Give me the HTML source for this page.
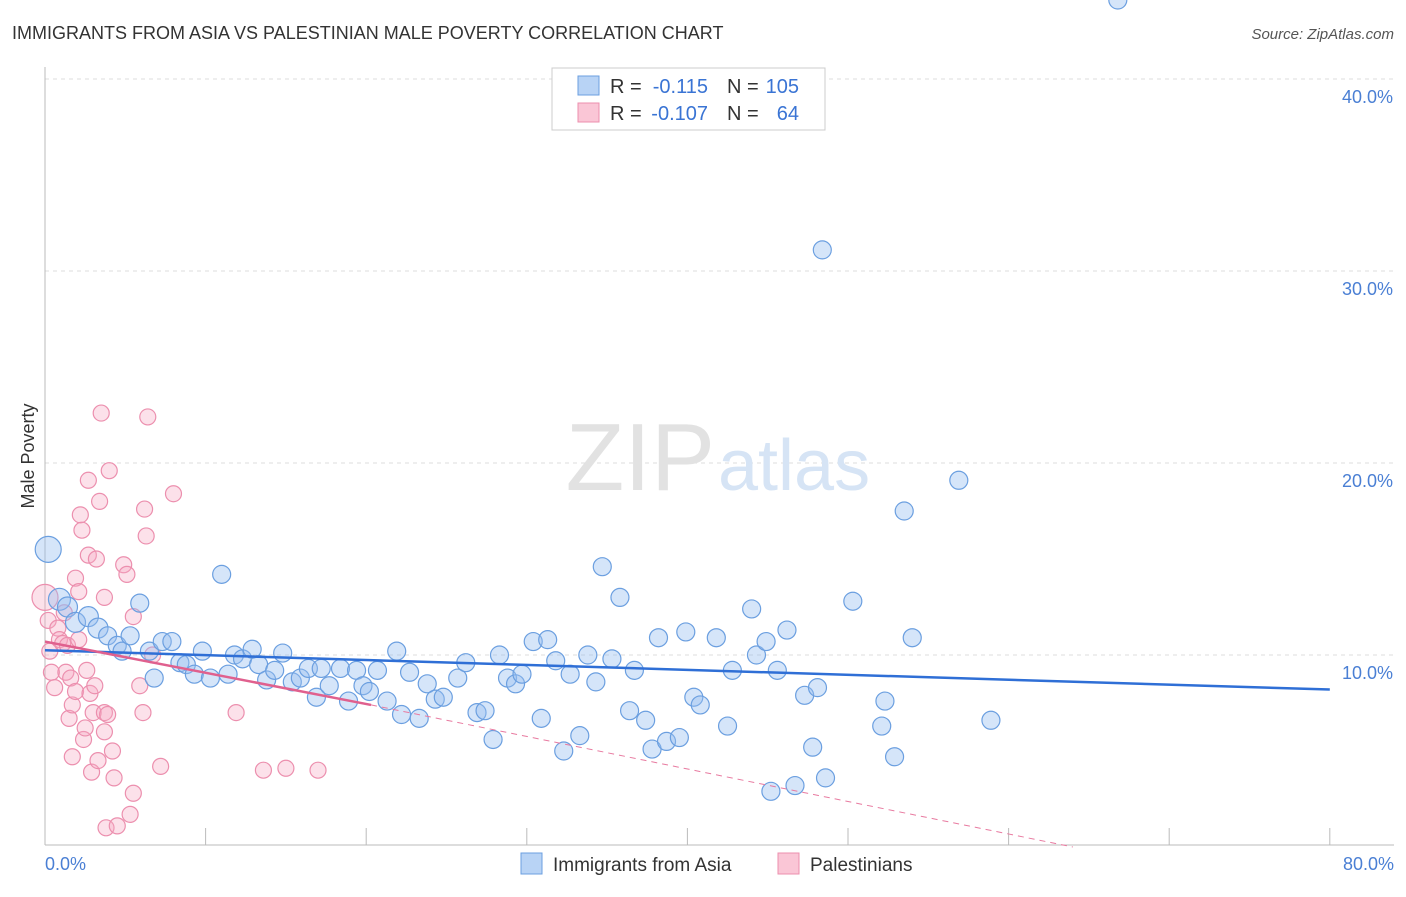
<!DOCTYPE html>
<html><head><meta charset="utf-8"><style>
body{margin:0;background:#fff;font-family:"Liberation Sans",sans-serif;}
svg text{font-family:"Liberation Sans",sans-serif;}
</style></head><body>
<svg width="1406" height="892">
<text x="12" y="39" font-size="18" fill="#333">IMMIGRANTS FROM ASIA VS PALESTINIAN MALE POVERTY CORRELATION CHART</text>
<text x="1394" y="39" font-size="15" fill="#555" font-style="italic" text-anchor="end">Source: ZipAtlas.com</text>
<g id="grid"></g>
<text x="715" y="490" font-size="96" fill="#e2e2e2" text-anchor="end" font-family="Liberation Serif">ZIP</text>
<text x="718" y="490" font-size="72" fill="#d6e4f5">atlas</text>
<g id="pts"></g>
<g id="lines"></g>
<text x="34" y="456" font-size="18" fill="#333" text-anchor="middle" transform="rotate(-90 34 456)">Male Poverty</text>
<text x="45" y="870" font-size="18" fill="#4a7fd4">0.0%</text>
<text x="1394" y="870" font-size="18" fill="#4a7fd4" text-anchor="end">80.0%</text>
<g>
<rect x="552" y="68" width="273" height="62" fill="#fff" stroke="#ccc"/>
<rect x="578" y="76" width="21" height="19" fill="#b8d3f5" stroke="#6b9fe0"/>
<rect x="578" y="103" width="21" height="19" fill="#fac6d6" stroke="#ec8fae"/>
<text x="610" y="93" font-size="20" fill="#333">R =</text>
<text x="708" y="93" font-size="20" fill="#3a74d4" text-anchor="end">-0.115</text>
<text x="727" y="93" font-size="20" fill="#333">N =</text>
<text x="799" y="93" font-size="20" fill="#3a74d4" text-anchor="end">105</text>
<text x="610" y="120" font-size="20" fill="#333">R =</text>
<text x="708" y="120" font-size="20" fill="#3a74d4" text-anchor="end">-0.107</text>
<text x="727" y="120" font-size="20" fill="#333">N =</text>
<text x="799" y="120" font-size="20" fill="#3a74d4" text-anchor="end">64</text>
</g>
<g>
<rect x="521" y="853" width="21" height="21" fill="#b8d3f5" stroke="#6b9fe0"/>
<text x="553" y="871" font-size="19" fill="#333">Immigrants from Asia</text>
<rect x="778" y="853" width="21" height="21" fill="#fac6d6" stroke="#ec8fae"/>
<text x="810" y="871" font-size="19" fill="#333">Palestinians</text>
</g>
</svg>
<script>
const yTicks=[10,20,30,40];
const xTicks=[0,10,20,30,40,50,60,70,80];
const blueX=[0.2,0.9,1.4,1.9,2.7,3.3,3.9,4.5,4.8,5.3,5.9,6.5,6.8,7.3,7.9,8.4,8.8,9.3,9.8,10.3,11,11.4,11.8,12.3,12.9,13.3,13.8,14.3,14.8,15.4,15.9,16.4,16.9,17.2,17.7,18.4,18.9,19.4,19.8,20.2,20.7,21.3,21.9,22.2,22.7,23.3,23.8,24.3,24.8,25.7,26.2,26.9,27.4,27.9,28.3,28.8,29.3,29.7,30.4,30.9,31.3,31.8,32.3,32.7,33.3,33.8,34.3,34.7,35.3,35.8,36.4,36.7,37.4,37.8,38.2,38.7,39.5,39.9,40.4,40.8,41.8,42.5,42.8,44,44.3,44.9,45.2,45.6,46.2,46.7,47.3,47.8,48.4,48.1,48.6,50.3,52.1,52.3,52.9,53.5,54,56.9,58.9,66.8];
const blueY=[15.5,12.9,12.5,11.7,12,11.4,11,10.5,10.2,11,12.7,10.2,8.8,10.7,10.7,9.6,9.5,9,10.2,8.8,14.2,9,10,9.8,10.3,9.5,8.7,9.2,10.1,8.6,8.8,9.3,7.8,9.3,8.4,9.3,7.6,9.2,8.4,8.1,9.2,7.6,10.2,6.9,9.1,6.7,8.5,7.7,7.8,8.8,9.6,7,7.1,5.6,10,8.8,8.5,9,10.7,6.7,10.8,9.7,5,9,5.8,10,8.6,14.6,9.8,13,7.1,9.2,6.6,5.1,10.9,5.5,5.7,11.2,7.8,7.4,10.9,6.3,9.2,12.4,10,10.7,2.9,9.2,11.3,3.2,7.9,5.2,31.1,8.3,3.6,12.8,6.3,7.6,4.7,17.5,10.9,19.1,6.6];
const blueR=[13,11,10,10,10,10];
const pinkX=[0,0.2,0.3,0.4,0.6,0.8,0.9,1.1,1.2,1.3,1.4,1.5,1.6,1.7,1.7,1.9,1.9,2.1,2.1,2.2,2.3,2.4,2.5,2.6,2.7,2.7,2.8,2.9,3,3.1,3.2,3.3,3.4,3.5,3.7,3.7,3.7,3.8,3.9,4,4.2,4.3,4.5,4.9,5.1,5.3,5.5,5.5,5.9,6.1,6.2,6.3,6.4,6.7,7.2,8,11.9,13.6,15,17];
const pinkY=[13,11.8,10.2,9.1,8.3,11.4,10.8,10.6,12.2,9.1,10.5,6.7,8.8,7.4,4.7,14,8.1,13.3,10.8,17.3,16.5,5.6,6.2,9.2,15.2,19.1,8,3.9,7,8.4,15,4.5,18,22.6,7,13,6,1.0,6.9,19.6,5,3.6,1.1,14.7,14.2,1.7,12,2.8,8.4,7,17.6,16.2,22.4,10,4.2,18.4,7,4,4.1,4.0];
const pinkR=[13];
const blueLine=[0,10.25,80,8.2], pinkLine=[0,10.7,20.3,7.4], pinkDash=[20.3,7.4,64,0];
const X=v=>45+v*16.06, Y=v=>847-v*19.2;
const NS='http://www.w3.org/2000/svg';
function mk(t,a,p){const e=document.createElementNS(NS,t);for(const k in a)e.setAttribute(k,a[k]);document.getElementById(p).appendChild(e);return e;}
yTicks.forEach(t=>{const l=mk('line',{x1:45,x2:1394,y1:Y(t),y2:Y(t),stroke:'#ddd','stroke-dasharray':'4 4'},'grid');


const tx=mk('text',{x:1393,y:Y(t)+24,'font-size':18,fill:'#4a7fd4','text-anchor':'end'},'grid');tx.textContent=t.toFixed(1)+'%';

});
const yAxisLine=mk('line',{x1:45,x2:45,y1:67,y2:845,stroke:'#bbb'},'grid');


const xAxisLine=mk('line',{x1:45,x2:1394,y1:845,y2:845,stroke:'#bbb'},'grid');


xTicks.forEach(t=>{const l=mk('line',{x1:X(t),x2:X(t),y1:828,y2:845,stroke:'#bbb'},'grid');

});
pinkX.forEach((x,i)=>{if(pinkY[i]===undefined)return;const c=mk('circle',{cx:X(x),cy:Y(pinkY[i]),r:pinkR[i]||8,fill:'rgba(246,170,195,0.35)',stroke:'#ec8fae','stroke-width':1.2},'pts');

});
blueX.forEach((x,i)=>{const c=mk('circle',{cx:X(x),cy:Y(blueY[i]),r:blueR[i]||9,fill:'rgba(150,190,240,0.4)',stroke:'#6b9fe0','stroke-width':1.2},'pts');

});
const bl=mk('line',{x1:X(blueLine[0]),y1:Y(blueLine[1]),x2:X(blueLine[2]),y2:Y(blueLine[3]),stroke:'#2f6fd6','stroke-width':2.5},'lines');


const pd=mk('line',{x1:X(pinkDash[0]),y1:Y(pinkDash[1]),x2:X(pinkDash[2]),y2:Y(pinkDash[3]),stroke:'#e87aa0','stroke-width':1,'stroke-dasharray':'6 5'},'lines');


const pl=mk('line',{x1:X(pinkLine[0]),y1:Y(pinkLine[1]),x2:X(pinkLine[2]),y2:Y(pinkLine[3]),stroke:'#e0608e','stroke-width':2.5},'lines');


</script>
</body></html>
